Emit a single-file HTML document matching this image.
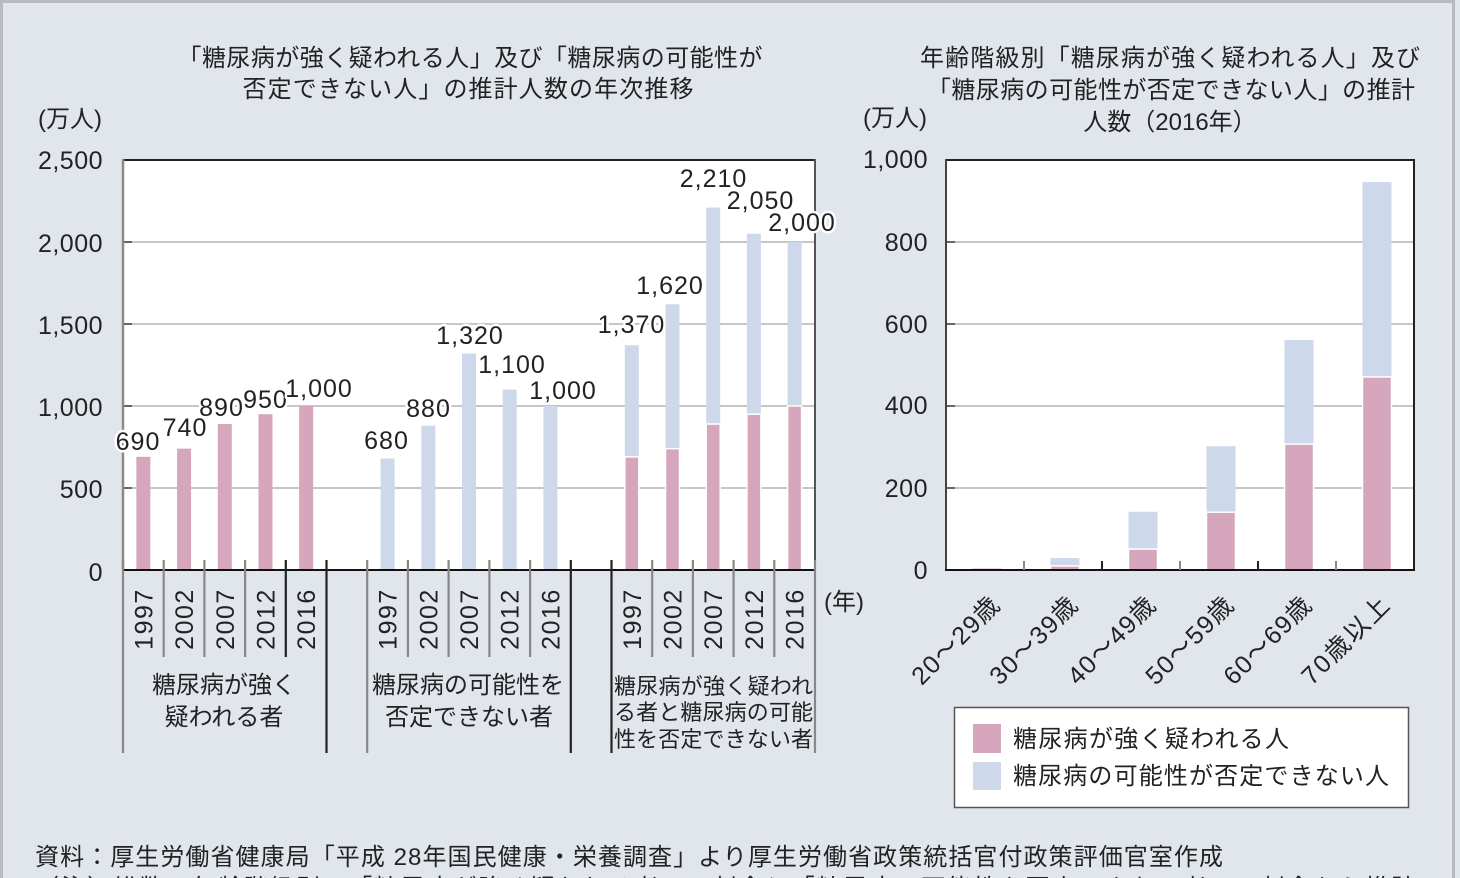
<!DOCTYPE html>
<html><head><meta charset="utf-8"><style>
html,body{margin:0;padding:0;background:#e1e6ed;}
svg{display:block;}
text{font-family:"Liberation Sans","Noto Sans CJK JP",sans-serif;fill:#222;}
.h{stroke:#fff;stroke-width:5;paint-order:stroke;stroke-linejoin:round;}
</style></head><body>
<svg width="1460" height="878" viewBox="0 0 1460 878" xmlns="http://www.w3.org/2000/svg">
<rect x="0" y="0" width="1460" height="878" fill="#e1e6ed"/>
<rect x="1.5" y="1.5" width="1452" height="900" fill="none" stroke="#b7bbc0" stroke-width="3"/>

<!-- Titles -->
<text x="470" y="66" font-size="24" text-anchor="middle" textLength="585" lengthAdjust="spacing">「糖尿病が強く疑われる人」及び「糖尿病の可能性が</text>
<text x="468" y="97" font-size="24" text-anchor="middle" textLength="451" lengthAdjust="spacing">否定できない人」の推計人数の年次推移</text>
<text x="1170" y="66" font-size="24" text-anchor="middle" textLength="500" lengthAdjust="spacing">年齢階級別「糖尿病が強く疑われる人」及び</text>
<text x="1171" y="98" font-size="24" text-anchor="middle" textLength="488" lengthAdjust="spacing">「糖尿病の可能性が否定できない人」の推計</text>
<text x="1170" y="130" font-size="24" text-anchor="middle">人数（2016年）</text>
<text x="70" y="127" font-size="24" text-anchor="middle">(万人)</text>
<text x="895" y="126" font-size="24" text-anchor="middle">(万人)</text>

<!-- LEFT CHART -->
<rect x="123" y="160" width="692" height="410" fill="#fff"/>
<g stroke="#c6c6c6" stroke-width="2">
<line x1="123" y1="242" x2="815" y2="242"/><line x1="123" y1="324" x2="815" y2="324"/>
<line x1="123" y1="406" x2="815" y2="406"/><line x1="123" y1="488" x2="815" y2="488"/>
</g>
<g stroke="#666" stroke-width="2">
<line x1="123" y1="242" x2="132" y2="242"/><line x1="123" y1="324" x2="132" y2="324"/>
<line x1="123" y1="406" x2="132" y2="406"/><line x1="123" y1="488" x2="132" y2="488"/>
</g>
<g fill="#d6a7bc">
<rect x="136.35" y="456.84" width="14" height="113.16"/>
<rect x="177.06" y="448.64" width="14" height="121.36"/>
<rect x="217.77" y="424.04" width="14" height="145.96"/>
<rect x="258.47" y="414.2" width="14" height="155.8"/>
<rect x="299.18" y="406" width="14" height="164"/>
</g>
<g fill="#cdd8ea">
<rect x="380.59" y="458.48" width="14" height="111.52"/>
<rect x="421.3" y="425.68" width="14" height="144.32"/>
<rect x="462.0" y="353.52" width="14" height="216.48"/>
<rect x="502.7" y="389.6" width="14" height="180.4"/>
<rect x="543.4" y="406" width="14" height="164"/>
</g>
<g fill="#cdd8ea">
<rect x="624.8" y="345.32" width="14" height="224.68"/>
<rect x="665.5" y="304.32" width="14" height="265.68"/>
<rect x="706.2" y="207.56" width="14" height="362.44"/>
<rect x="746.9" y="233.8" width="14" height="336.2"/>
<rect x="787.6" y="242" width="14" height="328"/>
</g>
<g fill="#d6a7bc" stroke="#fff" stroke-width="1.5">
<rect x="624.8" y="456.84" width="14" height="113.16"/>
<rect x="665.5" y="448.64" width="14" height="121.36"/>
<rect x="706.2" y="424.04" width="14" height="145.96"/>
<rect x="746.9" y="414.2" width="14" height="155.8"/>
<rect x="787.6" y="406" width="14" height="164"/>
</g>
<line x1="123" y1="160" x2="815" y2="160" stroke="#222" stroke-width="2"/>
<line x1="123" y1="159" x2="123" y2="570" stroke="#8a8a8a" stroke-width="2.5"/>
<line x1="815" y1="159" x2="815" y2="570" stroke="#555" stroke-width="2"/>
<line x1="122" y1="570" x2="816" y2="570" stroke="#111" stroke-width="2"/>
<g stroke-width="2.2">
<line x1="123" y1="560" x2="123" y2="753" stroke="#888"/>
<line x1="163.7" y1="560" x2="163.7" y2="657" stroke="#888"/>
<line x1="204.4" y1="560" x2="204.4" y2="657" stroke="#888"/>
<line x1="245.1" y1="560" x2="245.1" y2="657" stroke="#888"/>
<line x1="285.8" y1="560" x2="285.8" y2="657" stroke="#222"/>
<line x1="326.5" y1="560" x2="326.5" y2="753" stroke="#222"/>
<line x1="367.2" y1="560" x2="367.2" y2="753" stroke="#888"/>
<line x1="407.9" y1="560" x2="407.9" y2="657" stroke="#888"/>
<line x1="448.6" y1="560" x2="448.6" y2="657" stroke="#888"/>
<line x1="489.4" y1="560" x2="489.4" y2="657" stroke="#888"/>
<line x1="530.1" y1="560" x2="530.1" y2="657" stroke="#888"/>
<line x1="570.8" y1="560" x2="570.8" y2="753" stroke="#222"/>
<line x1="611.5" y1="560" x2="611.5" y2="753" stroke="#222"/>
<line x1="652.2" y1="560" x2="652.2" y2="657" stroke="#888"/>
<line x1="692.9" y1="560" x2="692.9" y2="657" stroke="#888"/>
<line x1="733.6" y1="560" x2="733.6" y2="657" stroke="#888"/>
<line x1="774.3" y1="560" x2="774.3" y2="657" stroke="#888"/>
<line x1="815" y1="560" x2="815" y2="753" stroke="#888"/>
</g>
<g font-size="25" text-anchor="end" letter-spacing="0.5">
<text x="103" y="169">2,500</text>
<text x="103" y="252">2,000</text>
<text x="103" y="334">1,500</text>
<text x="103" y="416">1,000</text>
<text x="103" y="498">500</text>
<text x="103" y="581">0</text>
</g>
<g font-size="25" text-anchor="middle" letter-spacing="1">
<text class="h" x="138" y="450">690</text>
<text class="h" x="185" y="436">740</text>
<text class="h" x="221.5" y="416">890</text>
<text class="h" x="265.5" y="408">950</text>
<text class="h" x="319" y="397">1,000</text>
<text class="h" x="386.5" y="449">680</text>
<text class="h" x="428.5" y="417">880</text>
<text class="h" x="470" y="344">1,320</text>
<text class="h" x="512" y="373">1,100</text>
<text class="h" x="563" y="399">1,000</text>
<text class="h" x="631.5" y="333">1,370</text>
<text class="h" x="670" y="294">1,620</text>
<text class="h" x="713.5" y="187">2,210</text>
<text class="h" x="760.5" y="209">2,050</text>
<text class="h" x="802" y="231">2,000</text>
</g>
<g font-size="25" text-anchor="middle" letter-spacing="1.5">
<text transform="translate(143.35,619) rotate(-90)" dy="9">1997</text>
<text transform="translate(184.06,619) rotate(-90)" dy="9">2002</text>
<text transform="translate(224.77,619) rotate(-90)" dy="9">2007</text>
<text transform="translate(265.47,619) rotate(-90)" dy="9">2012</text>
<text transform="translate(306.18,619) rotate(-90)" dy="9">2016</text>
<text transform="translate(387.59,619) rotate(-90)" dy="9">1997</text>
<text transform="translate(428.3,619) rotate(-90)" dy="9">2002</text>
<text transform="translate(469.0,619) rotate(-90)" dy="9">2007</text>
<text transform="translate(509.7,619) rotate(-90)" dy="9">2012</text>
<text transform="translate(550.4,619) rotate(-90)" dy="9">2016</text>
<text transform="translate(631.8,619) rotate(-90)" dy="9">1997</text>
<text transform="translate(672.5,619) rotate(-90)" dy="9">2002</text>
<text transform="translate(713.2,619) rotate(-90)" dy="9">2007</text>
<text transform="translate(753.9,619) rotate(-90)" dy="9">2012</text>
<text transform="translate(794.6,619) rotate(-90)" dy="9">2016</text>
</g>
<text x="844" y="610" font-size="24" text-anchor="middle">(年)</text>
<g font-size="24" text-anchor="middle">
<text x="224" y="693">糖尿病が強く</text>
<text x="224" y="725">疑われる者</text>
<text x="468" y="693">糖尿病の可能性を</text>
<text x="469" y="725">否定できない者</text>
</g>
<g font-size="22">
<text x="614" y="694" textLength="199" lengthAdjust="spacing">糖尿病が強く疑われ</text>
<text x="614" y="720" textLength="199" lengthAdjust="spacing">る者と糖尿病の可能</text>
<text x="614" y="747" textLength="199" lengthAdjust="spacing">性を否定できない者</text>
</g>

<!-- RIGHT CHART -->
<rect x="946" y="160" width="468" height="410" fill="#fff"/>
<g stroke="#c6c6c6" stroke-width="2">
<line x1="946" y1="242" x2="1414" y2="242"/><line x1="946" y1="324" x2="1414" y2="324"/>
<line x1="946" y1="406" x2="1414" y2="406"/><line x1="946" y1="488" x2="1414" y2="488"/>
</g>
<g stroke="#666" stroke-width="2">
<line x1="946" y1="242" x2="955" y2="242"/><line x1="946" y1="324" x2="955" y2="324"/>
<line x1="946" y1="406" x2="955" y2="406"/><line x1="946" y1="488" x2="955" y2="488"/>
</g>
<g fill="#cdd8ea">
<rect x="972.5" y="568.8" width="29" height="1.2"/>
<rect x="1050.5" y="558.1" width="29" height="11.9"/>
<rect x="1128.5" y="511.8" width="29" height="58.2"/>
<rect x="1206.5" y="446.2" width="29" height="123.8"/>
<rect x="1284.5" y="340" width="29" height="230"/>
<rect x="1362.5" y="182.1" width="29" height="387.9"/>
</g>
<g fill="#d6a7bc" stroke="#fff" stroke-width="1.5">
<rect x="1050.5" y="565.9" width="29" height="4.1"/>
<rect x="1128.5" y="549.1" width="29" height="20.9"/>
<rect x="1206.5" y="512.2" width="29" height="57.8"/>
<rect x="1284.5" y="444.1" width="29" height="125.9"/>
<rect x="1362.5" y="376.9" width="29" height="193.1"/>
</g>
<rect x="972.5" y="568.5" width="29" height="1.5" fill="#d6a7bc"/>
<line x1="946" y1="160" x2="1414" y2="160" stroke="#222" stroke-width="2"/>
<line x1="946" y1="159" x2="946" y2="571" stroke="#444" stroke-width="2"/>
<line x1="1414" y1="159" x2="1414" y2="571" stroke="#222" stroke-width="2"/>
<line x1="945" y1="570" x2="1415" y2="570" stroke="#111" stroke-width="2"/>
<g stroke-width="2">
<line x1="1024" y1="561" x2="1024" y2="570" stroke="#888"/>
<line x1="1102" y1="561" x2="1102" y2="570" stroke="#222"/>
<line x1="1180" y1="561" x2="1180" y2="570" stroke="#888"/>
<line x1="1258" y1="561" x2="1258" y2="570" stroke="#222"/>
<line x1="1336" y1="561" x2="1336" y2="570" stroke="#888"/>
</g>
<g font-size="25" text-anchor="end" letter-spacing="0.5">
<text x="928" y="168">1,000</text>
<text x="928" y="251">800</text>
<text x="928" y="333">600</text>
<text x="928" y="414">400</text>
<text x="928" y="497">200</text>
<text x="928" y="579">0</text>
</g>
<g font-size="25" text-anchor="end">
<text transform="translate(1001,607) rotate(-45)" textLength="112" lengthAdjust="spacing">20～29歳</text>
<text transform="translate(1079,607) rotate(-45)" textLength="112" lengthAdjust="spacing">30～39歳</text>
<text transform="translate(1157,607) rotate(-45)" textLength="112" lengthAdjust="spacing">40～49歳</text>
<text transform="translate(1235,607) rotate(-45)" textLength="112" lengthAdjust="spacing">50～59歳</text>
<text transform="translate(1313,607) rotate(-45)" textLength="112" lengthAdjust="spacing">60～69歳</text>
<text transform="translate(1391,607) rotate(-45)" textLength="112" lengthAdjust="spacing">70歳以上</text>
</g>
<!-- legend -->
<rect x="954.5" y="707.5" width="454" height="100" fill="#fff" stroke="#555" stroke-width="1.5"/>
<rect x="973" y="724" width="28" height="29" fill="#d6a7bc"/>
<rect x="973" y="762" width="28" height="28" fill="#cdd8ea"/>
<text x="1013" y="747" font-size="24" textLength="276" lengthAdjust="spacing">糖尿病が強く疑われる人</text>
<text x="1013" y="784" font-size="24" textLength="376" lengthAdjust="spacing">糖尿病の可能性が否定できない人</text>

<!-- source -->
<text x="35" y="865" font-size="24" textLength="1188" lengthAdjust="spacing">資料：厚生労働省健康局「平成 28年国民健康・栄養調査」より厚生労働省政策統括官付政策評価官室作成</text>
<text x="35" y="896" font-size="24" textLength="1380" lengthAdjust="spacing">（注）総数・年齢階級別の「糖尿病が強く疑われる者」の割合と「糖尿病の可能性を否定できない者」の割合から推計</text>
</svg>
</body></html>
